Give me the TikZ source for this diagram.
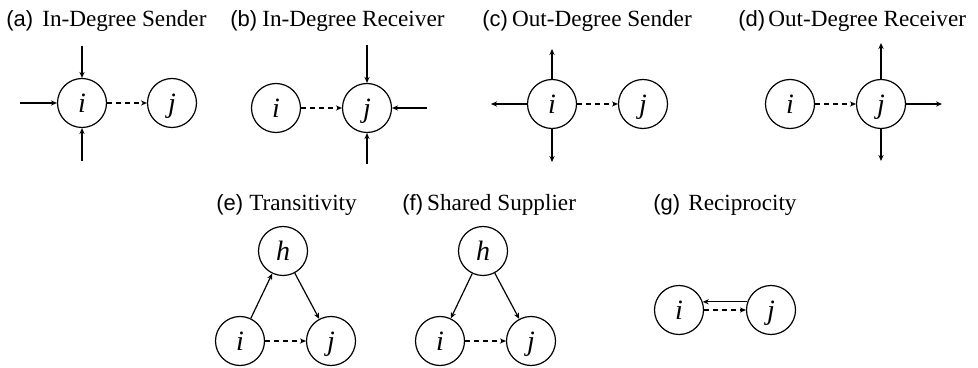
\documentclass[tikz,border=0pt]{standalone}
\usepackage{fontspec}
\setmainfont{Liberation Serif}
\setsansfont{Liberation Sans}
\usetikzlibrary{arrows.meta}

\begin{document}
\begin{tikzpicture}[
    x=0.5pt, y=-0.5pt,
    >={Stealth[length=3pt,width=2.6pt]},
    agent/.style={draw, circle, minimum size=24.5pt, inner sep=0pt, line width=0.6pt,
        text height=9.5pt, text depth=0pt, font=\fontsize{14}{16}\selectfont\itshape},
    tie/.style={->, line width=0.6pt},
    potential/.style={->, line width=0.6pt, dash pattern=on 2.5pt off 2pt},
    caption/.style={anchor=base west, inner sep=0pt, font=\fontsize{11.6}{14}\selectfont}
]
\useasboundingbox (0,0) rectangle (978,368);

% captions
\node[caption] (cap-a) at (6,27)   {\textsf{\fontsize{11}{13}\selectfont(a)}\hspace{4.5pt}In-Degree Sender};
\node[caption] (cap-b) at (230,27) {\textsf{\fontsize{11}{13}\selectfont(b)}\hspace{2.5pt}In-Degree Receiver};
\node[caption] (cap-c) at (482,27) {\textsf{\fontsize{11}{13}\selectfont(c)}\hspace{2pt}Out-Degree Sender};
\node[caption] (cap-d) at (738,27) {\textsf{\fontsize{11}{13}\selectfont(d)}\hspace{1.5pt}Out-Degree Receiver};
\node[caption] (cap-e) at (216,211) {\textsf{\fontsize{11}{13}\selectfont(e)}\hspace{3pt}Transitivity};
\node[caption] (cap-f) at (402,211) {\textsf{\fontsize{11}{13}\selectfont(f)}\hspace{2pt}Shared Supplier};
\node[caption] (cap-g) at (653,211) {\textsf{\fontsize{11}{13}\selectfont(g)}\hspace{4pt}Reciprocity};

% (a) in-degree sender
\node[agent] (a-i) at (82,103) {i};
\node[agent] (a-j) at (172,103) {j};
\coordinate (a-w) at (20,103);
\coordinate (a-n) at (82,46);
\coordinate (a-s) at (82,161);
\foreach \p in {w,n,s} \draw[tie] (a-\p) -- (a-i);
\draw[potential] (a-i) -- (a-j);

% (b) in-degree receiver
\node[agent] (b-i) at (276,108) {i};
\node[agent] (b-j) at (367,108) {j};
\coordinate (b-e) at (427,108);
\coordinate (b-n) at (367,45);
\coordinate (b-s) at (367,164);
\foreach \p in {e,n,s} \draw[tie] (b-\p) -- (b-j);
\draw[potential] (b-i) -- (b-j);

% (c) out-degree sender
\node[agent] (c-i) at (552,104) {i};
\node[agent] (c-j) at (643,104) {j};
\coordinate (c-w) at (491,104);
\coordinate (c-n) at (552,49);
\coordinate (c-s) at (552,162);
\foreach \p in {w,n,s} \draw[tie] (c-i) -- (c-\p);
\draw[potential] (c-i) -- (c-j);

% (d) out-degree receiver
\node[agent] (d-i) at (790,104) {i};
\node[agent] (d-j) at (881,104) {j};
\coordinate (d-e) at (942,104);
\coordinate (d-n) at (881,43);
\coordinate (d-s) at (881,161);
\foreach \p in {e,n,s} \draw[tie] (d-j) -- (d-\p);
\draw[potential] (d-i) -- (d-j);

% (e) transitivity
\node[agent] (e-h) at (283,251) {h};
\node[agent] (e-i) at (240,341) {i};
\node[agent] (e-j) at (331,341) {j};
\draw[tie] (e-i) -- (e-h);
\draw[tie] (e-h) -- (e-j);
\draw[potential] (e-i) -- (e-j);

% (f) shared supplier
\node[agent] (f-h) at (483,251) {h};
\node[agent] (f-i) at (440,341) {i};
\node[agent] (f-j) at (531,341) {j};
\draw[tie] (f-h) -- (f-i);
\draw[tie] (f-h) -- (f-j);
\draw[potential] (f-i) -- (f-j);

% (g) reciprocity
\node[agent] (g-i) at (679,310) {i};
\node[agent] (g-j) at (771,310) {j};
\draw[tie] (g-j.161) -- (g-i.19);
\draw[potential] (g-i) -- (g-j);
\end{tikzpicture}
\end{document}
